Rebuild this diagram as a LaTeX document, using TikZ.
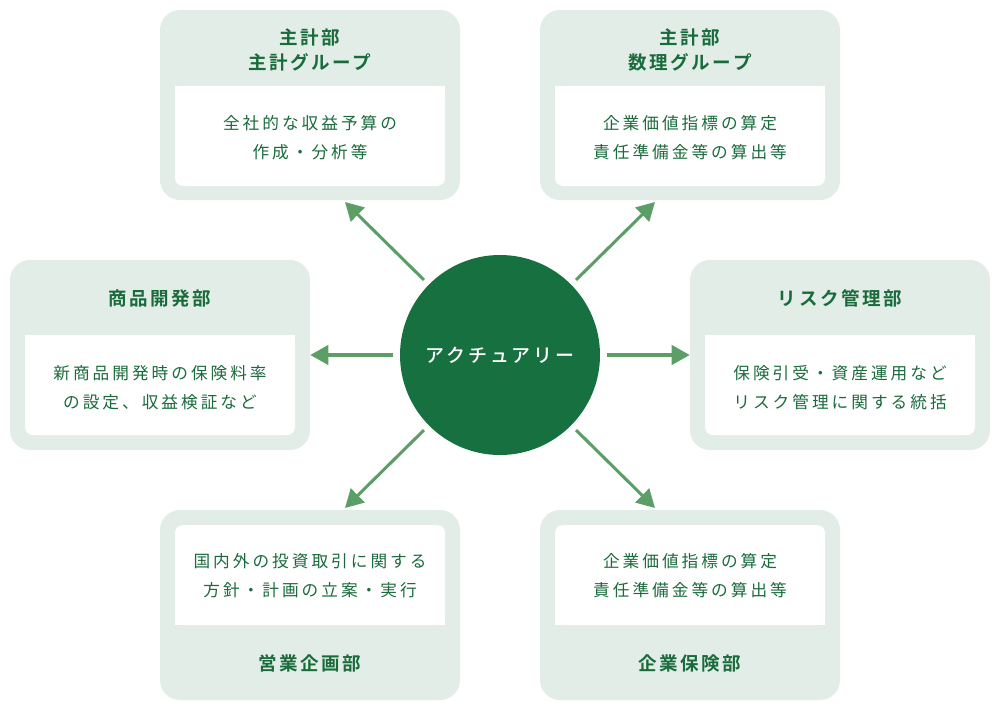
\documentclass[tikz,border=0pt]{standalone}
\usepackage{fontspec}
\setmainfont{Noto Sans CJK JP}
\newfontfamily\jpbody[LetterSpace=18]{Noto Sans CJK JP}
\newfontfamily\jptitle[LetterSpace=14]{Noto Sans CJK JP Bold}
\newfontfamily\jpcenter[LetterSpace=16]{Noto Sans CJK JP Medium}
\usetikzlibrary{arrows.meta}
\definecolor{boxbg}{HTML}{E1EDE6}
\definecolor{txtgreen}{HTML}{1A6B3C}
\definecolor{circgreen}{HTML}{17703F}
\definecolor{arrgreen}{HTML}{5B9E66}
\begin{document}
\begin{tikzpicture}[x=0.75pt,y=-0.75pt,
  outerbox/.style={fill=boxbg, rounded corners=15pt, minimum width=225pt, minimum height=142.5pt, inner sep=0pt, draw=none},
  bodytxt/.style={text=txtgreen, font=\jpbody\fontsize{12.5pt}{21.75pt}\selectfont, align=center, inner sep=0pt},
  titletxt/.style={text=txtgreen, font=\jptitle\fontsize{13.9pt}{18.5pt}\selectfont, align=center, inner sep=0pt},
  arr/.style={draw=arrgreen, line width=2.3pt, -{Triangle[length=13.5pt,width=14.5pt]}, shorten <=5pt},
  whitein/.style={fill=white, rounded corners=6pt}
]
\useasboundingbox (0,0) rectangle (1000,710);

% outer boxes
\node[outerbox] (mgmt)  at (310,105) {};
\node[outerbox] (math)  at (690,105) {};
\node[outerbox] (prod)  at (160,355) {};
\node[outerbox] (risk)  at (840,355) {};
\node[outerbox] (sales) at (310,605) {};
\node[outerbox] (corp)  at (690,605) {};

% inner white panels (top boxes: rounded bottom)
\fill[whitein] (175,86) rectangle (445,186);  \fill[white] (175,86) rectangle (445,130);
\fill[whitein] (555,86) rectangle (825,186);  \fill[white] (555,86) rectangle (825,130);
\fill[whitein] (25,335) rectangle (295,435);  \fill[white] (25,335) rectangle (295,380);
\fill[whitein] (705,335) rectangle (975,435); \fill[white] (705,335) rectangle (975,380);
% bottom boxes: rounded top
\fill[whitein] (175,525) rectangle (445,625); \fill[white] (175,580) rectangle (445,625);
\fill[whitein] (555,525) rectangle (825,625); \fill[white] (555,580) rectangle (825,625);

% texts
\node[titletxt] (mgmtT) at (310,50) {主計部\\主計グループ};
\node[bodytxt]  (mgmtB) at (310,137.5) {全社的な収益予算の\\作成・分析等};
\node[titletxt] (mathT) at (690,50) {主計部\\数理グループ};
\node[bodytxt]  (mathB) at (690,137.5) {企業価値指標の算定\\責任準備金等の算出等};
\node[titletxt] (prodT) at (160,298) {商品開発部};
\node[bodytxt]  (prodB) at (160,387.5) {新商品開発時の保険料率\\の設定、収益検証など};
\node[titletxt] (riskT) at (840,298) {リスク管理部};
\node[bodytxt]  (riskB) at (840,387.5) {保険引受・資産運用など\\リスク管理に関する統括};
\node[bodytxt]  (salesB) at (310,576) {国内外の投資取引に関する\\方針・計画の立案・実行};
\node[titletxt] (salesT) at (310,663) {営業企画部};
\node[bodytxt]  (corpB) at (690,576) {企業価値指標の算定\\責任準備金等の算出等};
\node[titletxt] (corpT) at (690,663) {企業保険部};

% center circle
\node[circle, fill=circgreen, minimum size=150pt, inner sep=0pt, text=white,
      font=\jpcenter\fontsize{14.2pt}{16pt}\selectfont] (act) at (500,355) {アクチュアリー};

% arrow end points
\coordinate (tlEnd) at (345,202);
\coordinate (trEnd) at (655,202);
\coordinate (blEnd) at (345,508);
\coordinate (brEnd) at (655,508);

\draw[arr] (act) -- (prod.east);
\draw[arr] (act) -- (risk.west);
\draw[arr] (act) -- (tlEnd);
\draw[arr] (act) -- (trEnd);
\draw[arr] (act) -- (blEnd);
\draw[arr] (act) -- (brEnd);
\end{tikzpicture}
\end{document}
